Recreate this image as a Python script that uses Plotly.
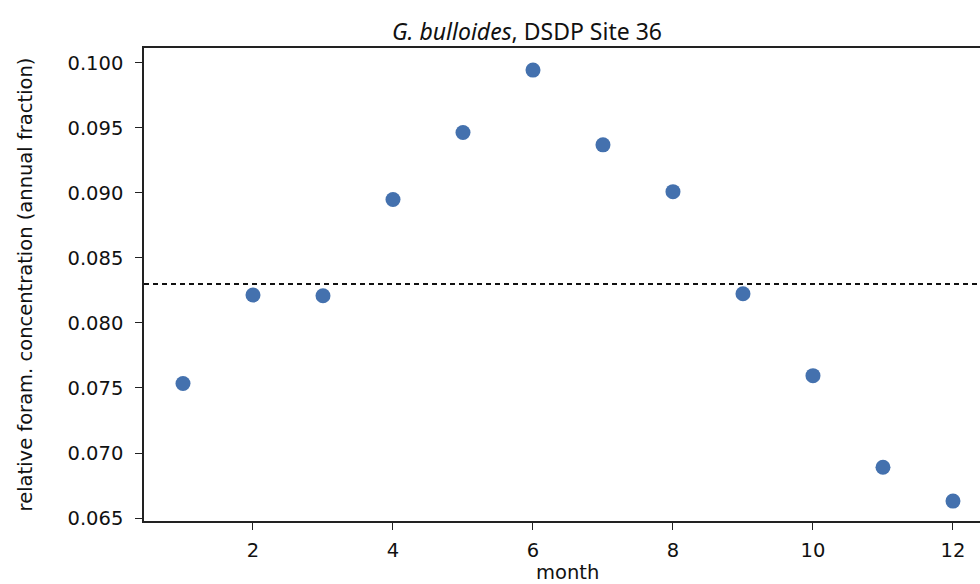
import plotly.graph_objects as go

# Monthly relative foraminifera concentration (fraction of annual total)
months = [1, 2, 3, 4, 5, 6, 7, 8, 9, 10, 11, 12]
concentration = [0.07535, 0.08215, 0.08210, 0.08950, 0.09465, 0.09945,
                 0.09370, 0.09010, 0.08225, 0.07595, 0.06890, 0.06630]
reference_level = 0.0830

x_tick_vals = [2, 4, 6, 8, 10, 12]
y_tick_vals = [0.065, 0.070, 0.075, 0.080, 0.085, 0.090, 0.095, 0.100]
y_tick_text = [f"{v:.3f}" for v in y_tick_vals]

tick_font = dict(family="DejaVu Sans", size=19.5, color="#111111")

fig = go.Figure()

fig.add_trace(go.Scatter(
    x=months, y=concentration, mode="markers",
    marker=dict(size=15, color="#4471ae", line=dict(width=0)),
    showlegend=False, hoverinfo="x+y",
))

# horizontal dashed reference level
fig.add_shape(type="line", xref="paper", yref="y",
              x0=0, x1=1, y0=reference_level, y1=reference_level,
              line=dict(color="#111111", width=2, dash="5px,4px"))

fig.update_layout(
    width=980, height=584,
    margin=dict(l=144, r=0, t=48, b=63),
    plot_bgcolor="white", paper_bgcolor="white",
    annotations=[
        dict(text="<i>G. bulloides</i>, DSDP Site 36",
             xref="paper", yref="paper", x=0.458, y=1, yshift=17,
             xanchor="center", yanchor="middle", showarrow=False,
             font=dict(family="Noto Sans", size=23, color="#111111")),
        dict(text="month", xref="x", yref="paper", x=6.5, y=0, yshift=-51,
             xanchor="center", yanchor="middle", showarrow=False,
             font=dict(family="DejaVu Sans", size=19.5, color="#111111")),
    ],
)

fig.update_xaxes(
    range=[0.443, 12.386], tickvals=x_tick_vals,
    showline=True, linecolor="#222222", linewidth=1.6, mirror=True,
    ticks="outside", ticklen=7, tickwidth=1.4, tickcolor="#222222",
    showgrid=False, zeroline=False, tickfont=tick_font,
    ticklabelstandoff=4,
)
fig.update_yaxes(
    range=[0.06477, 0.10115], tickvals=y_tick_vals, ticktext=y_tick_text,
    showline=True, linecolor="#222222", linewidth=1.6, mirror=False,
    ticks="outside", ticklen=7, tickwidth=1.4, tickcolor="#222222",
    showgrid=False, zeroline=False, tickfont=tick_font,
    ticklabelstandoff=8,
    title=dict(text="relative foram. concentration (annual fraction)",
               font=dict(family="DejaVu Sans", size=19.5, color="#111111"),
               standoff=30),
)

fig.write_html("out.html")
